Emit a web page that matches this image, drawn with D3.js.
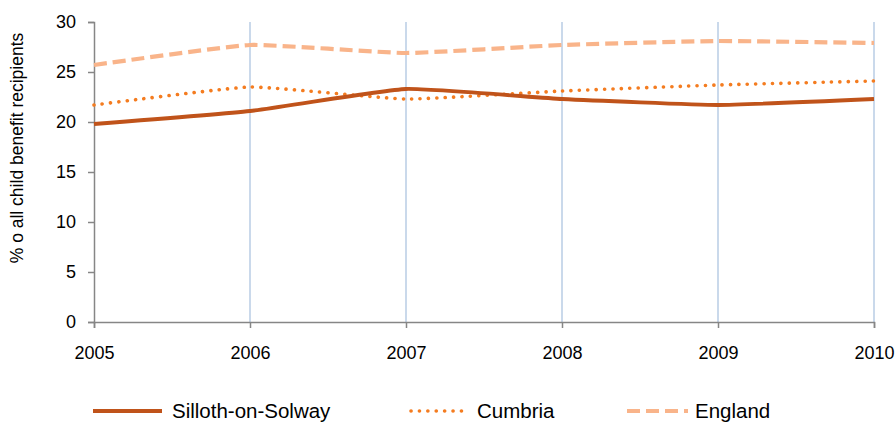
<!DOCTYPE html>
<html><head><meta charset="utf-8">
<script src="https://cdn.jsdelivr.net/npm/d3@7"></script>
<style>body{margin:0;background:#fff;} text{font-family:"Liberation Sans",Arial,sans-serif;fill:#000;}</style>
</head><body>
<svg id="c" width="896" height="423"></svg>
<script>
const years = [2005, 2006, 2007, 2008, 2009, 2010];
const silloth = [19.8, 21.1, 23.3, 22.3, 21.7, 22.3];
const cumbria = [21.7, 23.5, 22.3, 23.1, 23.7, 24.1];
const england = [25.7, 27.7, 26.9, 27.7, 28.1, 27.9];
const yTicks = [0, 5, 10, 15, 20, 25, 30];
const seriesNames = ["Silloth-on-Solway", "Cumbria", "England"];

const svg = d3.select("#c");
const x = d3.scaleLinear().domain([2005, 2010]).range([94, 874]);
const y = d3.scaleLinear().domain([0, 30]).range([322, 22]);

// vertical gridlines
svg.append("g").selectAll("line").data(years.slice(1)).join("line")
  .attr("x1", d => x(d)).attr("x2", d => x(d))
  .attr("y1", y(30)).attr("y2", y(0))
  .attr("stroke", "#b9cde5").attr("stroke-width", 1.5);

// y axis
const yAx = svg.append("g").attr("transform", `translate(${x(2005)},0)`)
  .call(d3.axisLeft(y).tickValues(yTicks).tickSize(6).tickPadding(12));
yAx.select(".domain").attr("stroke", "#868686").attr("stroke-width", 1.5);
yAx.selectAll(".tick line").attr("stroke", "#868686").attr("stroke-width", 1.5);
yAx.selectAll(".tick text").style("font-size", "18px").attr("font-family", null);

// x axis
const xAx = svg.append("g").attr("transform", `translate(0,${y(0)})`)
  .call(d3.axisBottom(x).tickValues(years).tickFormat(d3.format("d")).tickSize(6).tickPadding(18));
xAx.select(".domain").attr("stroke", "#868686").attr("stroke-width", 1.5);
xAx.selectAll(".tick line").attr("stroke", "#868686").attr("stroke-width", 1.5);
xAx.selectAll(".tick text").style("font-size", "18px").attr("font-family", null);
svg.selectAll(".tick text").attr("fill", "#000");

// axis title
svg.append("text").attr("transform", "translate(23,148) rotate(-90)")
  .attr("text-anchor", "middle").style("font-size", "17.5px")
  .text("% o all child benefit recipients");

const styles = [
  {data: england, color: "#f9b48a", w: 4.2, dash: "13,6", cap: "butt"},
  {data: cumbria, color: "#f47c20", w: 3.6, dash: "0.1,8.3", cap: "round"},
  {data: silloth, color: "#c0531a", w: 3.8, dash: null, cap: "butt"}
];
const line = d3.line().x((d, i) => x(years[i])).y(d => y(d)).curve(d3.curveCardinal.tension(0.6));
styles.forEach(s => {
  svg.append("path").attr("d", line(s.data)).attr("fill", "none")
    .attr("stroke", s.color).attr("stroke-width", s.w)
    .attr("stroke-dasharray", s.dash).attr("stroke-linecap", s.cap);
});

// legend
const legend = [
  {name: seriesNames[0], x1: 93, x2: 162, tx: 172, st: styles[2]},
  {name: seriesNames[1], x1: 411, x2: 462, tx: 477, st: styles[1]},
  {name: seriesNames[2], x1: 627, x2: 688, tx: 695, st: styles[0]}
];
const ly = 411;
legend.forEach(l => {
  svg.append("line").attr("x1", l.x1).attr("x2", l.x2).attr("y1", ly).attr("y2", ly)
    .attr("stroke", l.st.color).attr("stroke-width", l.st.w)
    .attr("stroke-dasharray", l.st.dash).attr("stroke-linecap", l.st.cap);
  svg.append("text").attr("x", l.tx).attr("y", ly).attr("dy", "0.36em")
    .style("font-size", "20.5px").text(l.name);
});
</script>
</body></html>
